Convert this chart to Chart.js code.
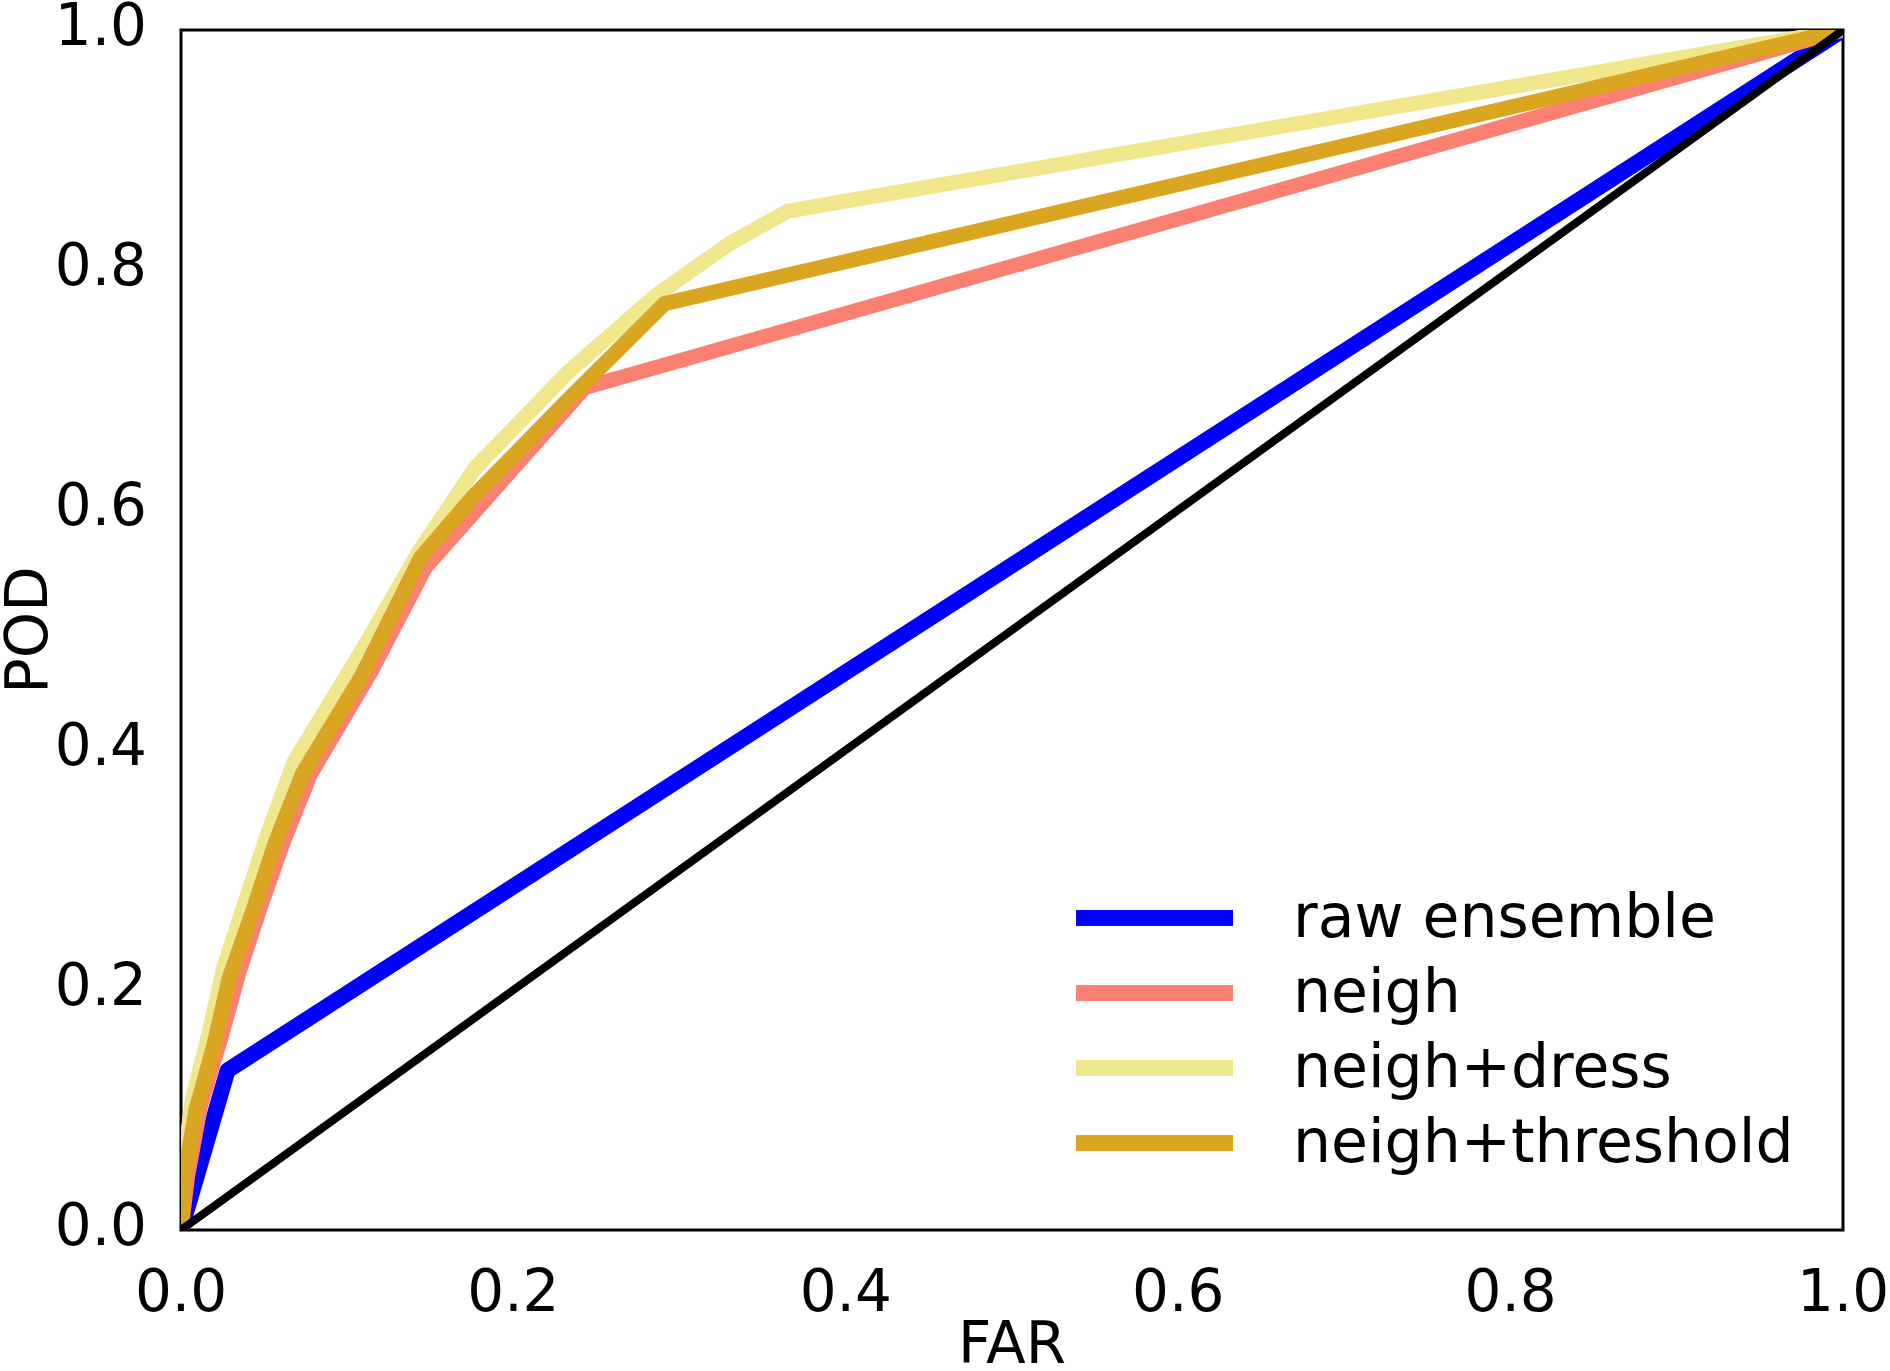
<!DOCTYPE html>
<html>
<head>
<meta charset="utf-8">
<title>ROC</title>
<script src="https://cdn.jsdelivr.net/npm/chart.js@4.4.1/dist/chart.umd.min.js"></script>
<style>
  body { margin: 0; background: #fff; }
  canvas { display: block; }
</style>
</head>
<body>
<canvas id="roc" width="1890" height="1371"></canvas>
<script>
'use strict';

// values (FAR on x, POD on y)
let rawFar = [0, 0.028, 1];
let rawPod = [0, 0.133, 1];

let neighFar = [0, 0.004, 0.012, 0.024, 0.035, 0.048, 0.062, 0.078, 0.115, 0.147, 0.243, 1];
let neighPod = [0, 0.045, 0.105, 0.16, 0.215, 0.27, 0.325, 0.38, 0.467, 0.552, 0.702, 1];

let dressFar = [0, 0.001, 0.007, 0.017, 0.026, 0.039, 0.052, 0.068, 0.09, 0.111, 0.143, 0.177, 0.233, 0.286, 0.33, 0.365, 1];
let dressPod = [0, 0.05, 0.11, 0.165, 0.22, 0.275, 0.33, 0.39, 0.44, 0.488, 0.565, 0.635, 0.715, 0.779, 0.822, 0.849, 1];

let threshFar = [0, 0.002, 0.009, 0.02, 0.029, 0.043, 0.056, 0.073, 0.108, 0.144, 0.177, 0.233, 0.291, 1];
let threshPod = [0, 0.045, 0.10, 0.155, 0.21, 0.265, 0.32, 0.38, 0.46, 0.56, 0.613, 0.692, 0.772, 1];

let diagFar = [0, 1];
let diagPod = [0, 1];

let tickLabels = ['0.0', '0.2', '0.4', '0.6', '0.8', '1.0'];
let seriesNames = ['raw ensemble', 'neigh', 'neigh+dress', 'neigh+threshold'];

function toPoints(xs, ys) {
  let pts = [];
  for (let i = 0; i < xs.length; i++) {
    pts.push({x: xs[i], y: ys[i]});
  }
  return pts;
}

function makeLine(label, xs, ys, color, width, order) {
  return {
    label: label,
    data: toPoints(xs, ys),
    showLine: true,
    borderColor: color,
    backgroundColor: color,
    borderWidth: width,
    borderJoinStyle: 'round',
    pointRadius: 0,
    pointHoverRadius: 0,
    order: order
  };
}

let font = 'DejaVu Sans';

// frame round the plot, like the matplotlib axes box
let frame = {
  id: 'frame',
  beforeDatasetsDraw(chart) {
    let a = chart.chartArea;
    let ctx = chart.ctx;
    ctx.save();
    ctx.strokeStyle = '#000';
    ctx.lineWidth = 3;
    ctx.strokeRect(a.left, a.top, a.right - a.left, a.bottom - a.top);
    ctx.restore();
  }
};

// legend sits inside the axes, bottom right, no box
let innerLegend = {
  id: 'innerLegend',
  afterDraw(chart) {
    let ctx = chart.ctx;
    ctx.save();
    ctx.font = '60px "' + font + '"';
    ctx.textBaseline = 'middle';
    ctx.textAlign = 'left';
    for (let i = 0; i < seriesNames.length; i++) {
      let ds = chart.data.datasets[i];
      let y = 918 + i * 75;
      ctx.strokeStyle = ds.borderColor;
      ctx.lineWidth = 16;
      ctx.beginPath();
      ctx.moveTo(1076, y);
      ctx.lineTo(1233, y);
      ctx.stroke();
      ctx.fillStyle = '#000';
      ctx.fillText(ds.label, 1293, y + 3);
    }
    ctx.restore();
  }
};

let ctx = document.getElementById('roc');
new Chart(ctx, {
  type: 'scatter',
  data: {
    datasets: [
      makeLine(seriesNames[0], rawFar, rawPod, '#0000ff', 16, 4),
      makeLine(seriesNames[1], neighFar, neighPod, '#fa8072', 15, 3),
      makeLine(seriesNames[2], dressFar, dressPod, '#f0e68c', 15, 2),
      makeLine(seriesNames[3], threshFar, threshPod, '#daa520', 15, 1),
      makeLine('', diagFar, diagPod, '#000000', 8, 0)
    ]
  },
  options: {
    responsive: false,
    animation: false,
    events: [],
    layout: {padding: {top: 30, right: 47, left: 0, bottom: 0}},
    plugins: {
      legend: {display: false},
      tooltip: {enabled: false}
    },
    scales: {
      x: {
        type: 'linear',
        min: 0,
        max: 1,
        ticks: {
          stepSize: 0.2,
          padding: 31,
          color: '#000',
          font: {family: font, size: 58},
          maxRotation: 0,
          callback: (v, i) => tickLabels[i]
        },
        grid: {display: false, drawTicks: false},
        border: {display: false},
        title: {
          display: true,
          text: 'FAR',
          color: '#000',
          font: {family: font, size: 58, lineHeight: 0.8},
          padding: {top: 0, bottom: 0}
        },
        afterFit(scale) {
          scale.height = 141;
          scale.paddingLeft = 0;
          scale.paddingRight = 0;
        }
      },
      y: {
        type: 'linear',
        min: 0,
        max: 1,
        ticks: {
          stepSize: 0.2,
          padding: 34,
          color: '#000',
          font: {family: font, size: 58},
          callback: (v, i) => tickLabels[i]
        },
        grid: {display: false, drawTicks: false},
        border: {display: false},
        title: {
          display: true,
          text: 'POD',
          color: '#000',
          font: {family: font, size: 59, lineHeight: 0.8},
          padding: {top: 8, bottom: 0}
        },
        afterFit(scale) {
          scale.width = 181;
          scale.paddingTop = 0;
          scale.paddingBottom = 0;
        }
      }
    }
  },
  plugins: [frame, innerLegend]
});
</script>
</body>
</html>
